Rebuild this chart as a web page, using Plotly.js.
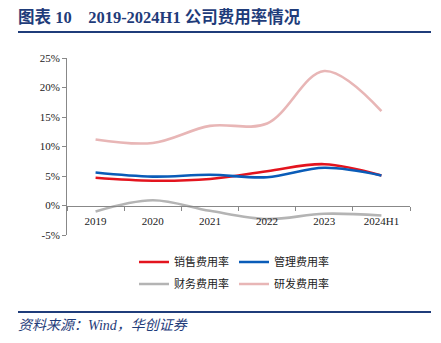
<!DOCTYPE html>
<html><head><meta charset="utf-8">
<script src="https://cdn.plot.ly/plotly-3.0.1.min.js"></script>
<style>html,body{margin:0;padding:0;background:#fff;}#chart{width:441px;height:343px;}</style>
</head><body><div id="chart"></div>
<script>
const categories = ['2019','2020','2021','2022','2023','2024H1'];
const salesRate = [4.7, 4.2, 4.5, 5.8, 7.0, 5.1];
const adminRate = [5.6, 4.9, 5.2, 4.8, 6.4, 5.1];
const financeRate = [-1.0, 0.9, -0.9, -2.3, -1.4, -1.7];
const rdRate = [11.2, 10.6, 13.5, 13.9, 22.8, 16.0];
const seriesNames = ['销售费用率','管理费用率','财务费用率','研发费用率'];
const yTicks = [-5, 0, 5, 10, 15, 20, 25];

const colors = ['#E3141E','#0A5CB8','#B4B4B4','#E8B6B6'];
const values = [salesRate, adminRate, financeRate, rdRate];
const cjk = 'Liberation Serif, Noto Sans CJK SC, serif';
const traces = values.map((v,i)=>({
  x: categories, y: v, name: seriesNames[i], type:'scatter', mode:'lines',
  line:{color:colors[i], width:2.6, shape:'spline', smoothing:1},
  legend: i<2 ? 'legend' : 'legend2', hoverinfo:'skip'
}));
const legendCommon = {orientation:'h', xanchor:'left', yanchor:'middle', font:{family:'Noto Sans CJK SC', size:11, color:'#222'}, bgcolor:'rgba(0,0,0,0)', itemwidth:30, tracegroupgap:0};
const px = v => (v-67)/343;
const py = v => (235-v)/177;
const layout = {
  width:441, height:343,
  margin:{l:67, r:31, t:58, b:108},
  paper_bgcolor:'#fff', plot_bgcolor:'#fff',
  showlegend:true,
  legend: Object.assign({x:px(134), y:py(262)}, legendCommon),
  legend2: Object.assign({x:px(134), y:py(284)}, legendCommon),
  xaxis:{
    type:'category', range:[-0.5,5.5], anchor:'free', position:5/30,
    showline:true, linecolor:'#888', linewidth:1,
    ticks:'outside', tickson:'boundaries', ticklen:4, tickcolor:'#888',
    ticklabelstandoff:5,
    showgrid:false, zeroline:false,
    tickfont:{family:'Liberation Serif, serif', size:11, color:'#222'}
  },
  yaxis:{
    range:[-5,25], tickvals:yTicks, ticktext:yTicks.map(t=>t+'%'),
    showline:true, linecolor:'#888', linewidth:1,
    ticks:'outside', ticklen:4, tickcolor:'#888',
    showgrid:false, zeroline:false,
    tickfont:{family:'Liberation Serif, serif', size:11, color:'#222'}
  },
  shapes:[
    {type:'line', xref:'paper', yref:'paper', x0:px(18), x1:px(431), y0:py(32), y1:py(32), line:{color:'#1F3C7A', width:2}},
    {type:'line', xref:'paper', yref:'paper', x0:px(18), x1:px(431), y0:py(312), y1:py(312), line:{color:'#1F3C7A', width:2}}
  ],
  annotations:[
    {text:'<b>图表 10    2019-2024H1 公司费用率情况</b>', xref:'paper', yref:'paper', x:px(16), y:py(29), xanchor:'left', yanchor:'bottom', showarrow:false,
     font:{family:cjk, size:16.5, color:'#1F3C7A'}},
    {text:'<i>资料来源：Wind，华创证券</i>', xref:'paper', yref:'paper', x:px(16), y:py(316), xanchor:'left', yanchor:'top', showarrow:false,
     font:{family:'Liberation Serif, Noto Sans CJK SC, serif', size:14, color:'#1F3C7A'}}
  ]
};
Plotly.newPlot('chart', traces, layout, {staticPlot:true, displayModeBar:false});
</script></body></html>
